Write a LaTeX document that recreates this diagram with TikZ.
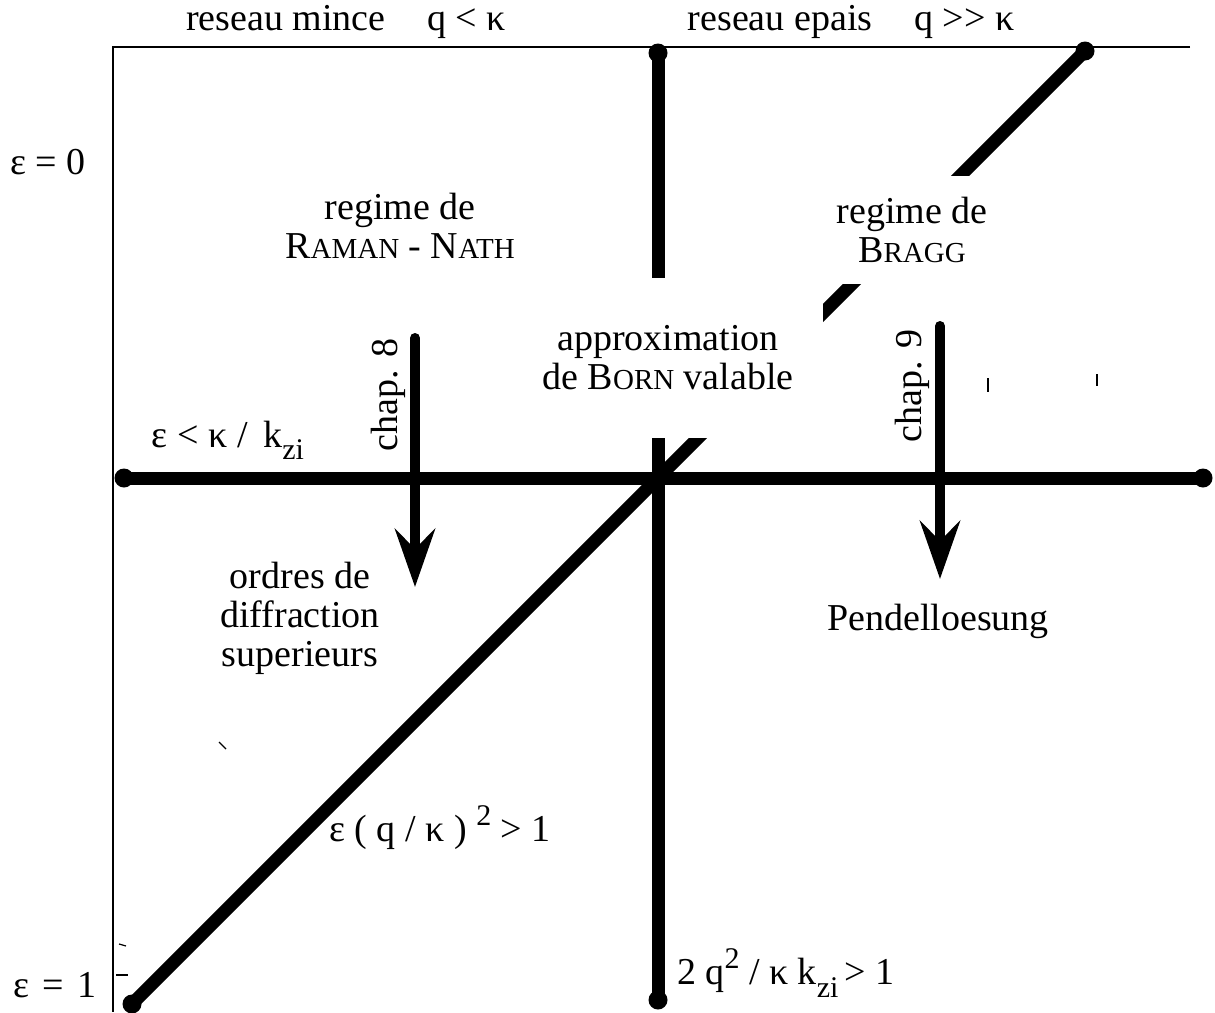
\documentclass[tikz,border=0pt]{standalone}
\usepackage{fontspec}
\setmainfont{Liberation Serif}
\usetikzlibrary{arrows.meta, positioning}
\newcommand{\lblfont}{\fontsize{19}{19.5}\selectfont}
\newcommand{\smcap}[2]{#1{\fontsize{14.5}{14.5}\selectfont #2}}
\newcommand{\lowidx}[1]{\raisebox{-0.32em}{\fontsize{15}{15}\selectfont #1}}
\newcommand{\highidx}[1]{\raisebox{0.42em}{\fontsize{15}{15}\selectfont #1}}
\tikzset{
  lbl/.style={font=\lblfont, align=center, inner sep=0pt},
  axisline/.style={line width=1pt},
  bar/.style={line width=6.5pt, line cap=round},
  barend/.style={circle, fill=black, minimum size=9.5pt, inner sep=0pt},
  mask/.style={lbl, fill=white},
  chaparr/.style={line width=5pt, line cap=round,
    -{Stealth[length=29pt, width=20pt, inset=10pt]}},
  speck/.style={line width=0.6pt},
}

\begin{document}
\begin{tikzpicture}[x=0.5pt, y=-0.5pt]
  \useasboundingbox (0,0) rectangle (1215,1012);

  % frame
  \coordinate (origin) at (113,47);
  \coordinate (topend) at (1190,47);
  \coordinate (leftend) at (113,1012);
  \draw[axisline] (topend) -- (origin) -- (leftend);

  % regime limits
  \node[barend] (vtop) at (658,53) {};
  \node[barend] (vbot) at (658,1000) {};
  \node[barend] (hleft) at (124,478) {};
  \node[barend] (hright) at (1203,478) {};
  \node[barend] (dbot) at (132,1004) {};
  \node[barend] (dtop) at (1085,51) {};
  \draw[bar] (vtop.center) -- (vbot.center);
  \draw[bar] (hleft.center) -- (hright.center);
  \draw[bar] (dbot.center) -- (dtop.center);

  % chapter arrows
  \coordinate (c8start) at (415,338);
  \coordinate (c8end) at (415,587);
  \coordinate (c9start) at (940,326);
  \coordinate (c9end) at (940,579);
  \draw[chaparr] (c8start) -- (c8end);
  \draw[chaparr] (c9start) -- (c9end);

  % labels cutting the lines
  \node[mask, minimum width=155pt, minimum height=80pt] (born) at (668,358)
    {approximation\\de \smcap{B}{ORN} valable};
  \node[mask, minimum width=80pt, minimum height=54pt] (bragg) at (912,230)
    {regime de\\\smcap{B}{RAGG}};

  % other labels
  \node[lbl] (thin) at (346,22) {reseau mince\hspace{1.1em}q < κ};
  \node[lbl] (thick) at (851,22) {reseau epais\hspace{1.1em}q >{}> κ};
  \node[lbl] (epszero) at (48,162) {ε = 0};
  \node[lbl] (raman) at (400,226) {regime de\\\smcap{R}{AMAN} - \smcap{N}{ATH}};
  \node[lbl, rotate=90] (chap8) at (388,395) {chap. 8};
  \node[lbl, rotate=90] (chap9) at (912,386) {chap. 9};
  \node[lbl] (epsmin) at (228,440) {ε < κ /\, k\lowidx{zi}};
  \node[lbl] (orders) at (300,618) {ordres de\\diffraction\\superieurs};
  \node[lbl] (pendel) at (938,621) {Pendelloesung};
  \node[lbl] (diagcond) at (440,828) {ε ( q / κ ) \highidx{2} > 1};
  \node[lbl] (epsone) at (55,985) {ε\hspace{0.35em}=\hspace{0.35em}1};
  \node[lbl] (vertcond) at (786,973) {2 q\highidx{2} / κ k\lowidx{zi}\,> 1};

  % stray specks
  \draw[speck] (988,378) -- (988,392);
  \draw[speck] (1097,374) -- (1097,386);
  \draw[speck] (219,742) -- (226,749);
  \draw[speck] (119,944) -- (126,946);
  \draw[speck] (116,975) -- (128,975);
\end{tikzpicture}
\end{document}
